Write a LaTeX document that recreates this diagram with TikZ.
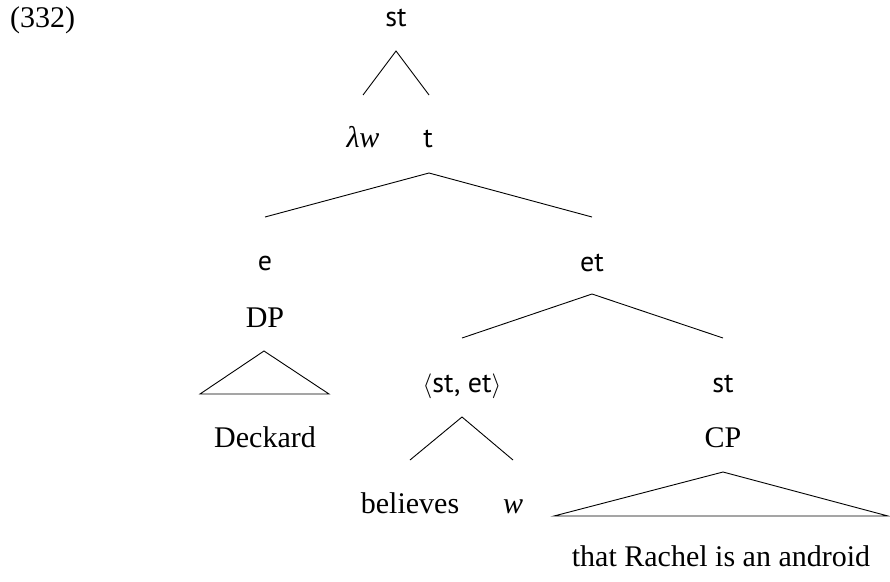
\documentclass[tikz,border=0pt]{standalone}
\usepackage{fontspec}
\setmainfont{Liberation Serif}
\newfontfamily\typefont{PT Sans}
\begin{document}
\begin{tikzpicture}[x=1pt,y=-1pt,
  lab/.style={anchor=base,inner sep=0pt,font=\fontsize{30}{36}\selectfont},
  typ/.style={anchor=base,inner sep=0pt,font=\typefont\fontsize{28}{34}\selectfont},
  branch/.style={draw=black,line width=0.9pt}]
\useasboundingbox (0,0) rectangle (890,581);
% labels
\node[lab,anchor=base west] (ex) at (10,27) {(332)};
\node[typ] (root) at (396,26) {st};
\node[lab] (lw) at (363,147) {\itshape λw};
\node[typ] (t) at (428,147) {t};
\node[typ] (e) at (265,270) {e};
\node[lab] (dp) at (265,327) {DP};
\node[lab] (deck) at (265,447) {Deckard};
\node[typ] (et) at (592,271) {et};
\node[typ] (stet) at (462,392) {$\langle$st, et$\rangle$};
\node[typ] (st2) at (723,392) {st};
\node[lab] (cp) at (723,447) {CP};
\node[lab] (bel) at (410,513) {believes};
\node[lab] (w) at (513,513) {\itshape w};
\node[lab] (that) at (721,566) {that Rachel is an android};
% branch points
\coordinate (rootA) at (396,51);
\coordinate (lwT) at (363,95);
\coordinate (tT) at (429,95);
\coordinate (tA) at (429,173);
\coordinate (eT) at (265,217);
\coordinate (etT) at (592,217);
\coordinate (etA) at (592,294);
\coordinate (stetT) at (462,338);
\coordinate (st2T) at (723,338);
\coordinate (stetA) at (462,417);
\coordinate (belT) at (410,460);
\coordinate (wT) at (513,460);
\coordinate (dpA) at (264,351);
\coordinate (dpL) at (200,394);
\coordinate (dpR) at (329,394);
\coordinate (cpA) at (723,472);
\coordinate (cpL) at (554,516);
\coordinate (cpR) at (888,516);
% branches
\draw[branch] (lwT) -- (rootA) -- (tT);
\draw[branch] (eT) -- (tA) -- (etT);
\draw[branch] (stetT) -- (etA) -- (st2T);
\draw[branch] (belT) -- (stetA) -- (wT);
\draw[branch] (dpA) -- (dpL) -- (dpR) -- cycle;
\draw[branch] (cpA) -- (cpL) -- (cpR) -- cycle;
\end{tikzpicture}
\end{document}
